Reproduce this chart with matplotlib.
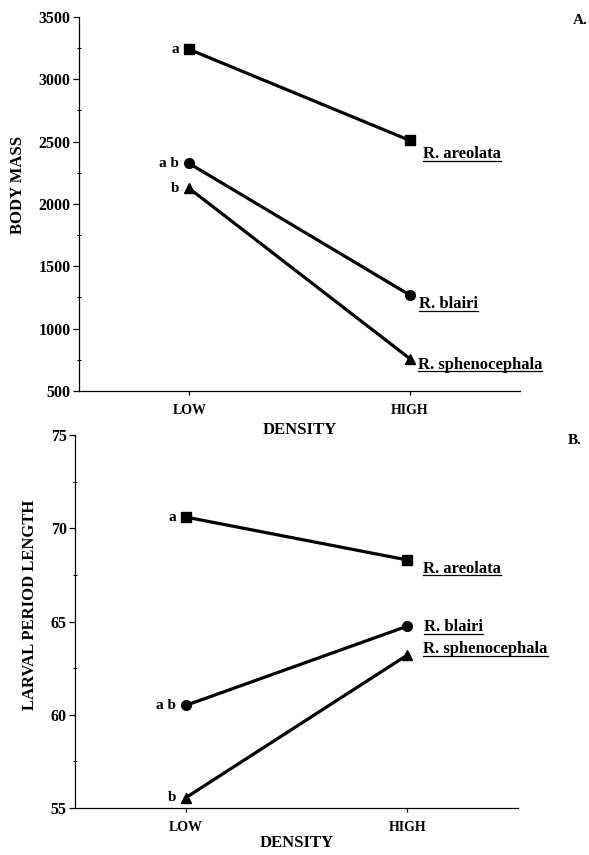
import matplotlib
matplotlib.use("Agg")
import matplotlib.pyplot as plt
from matplotlib.ticker import MultipleLocator
from matplotlib.lines import Line2D

plt.rcParams['font.family'] = ['Liberation Serif', 'DejaVu Serif']
plt.rcParams['font.weight'] = 'bold'

density = ["LOW", "HIGH"]
species = ["R. areolata", "R. blairi", "R. sphenocephala"]
markers = ["s", "o", "^"]

mass_areolata = [3240, 2510]
mass_blairi = [2325, 1270]
mass_spheno = [2125, 760]

period_areolata = [70.6, 68.3]
period_blairi = [60.5, 64.75]
period_spheno = [55.55, 63.2]

letters = ["a", "a b", "b"]

W, H = 589, 855
fig = plt.figure(figsize=(W / 100, H / 100), dpi=100)

def ax_rect(l, r, t, b):
    return [l / W, 1 - b / H, (r - l) / W, (b - t) / H]

ax1 = fig.add_axes(ax_rect(79, 520, 17, 391))
ax2 = fig.add_axes(ax_rect(75, 518, 435, 808))

x = [1, 2]

def style(ax, ylim, major, minor, ylabel, ylab_xy, dens_y):
    ax.set_xlim(0.5, 2.5)
    ax.set_ylim(*ylim)
    for s in ["top", "right"]:
        ax.spines[s].set_visible(False)
    for s in ["left", "bottom"]:
        ax.spines[s].set_linewidth(0.9)
    ax.yaxis.set_major_locator(MultipleLocator(major))
    ax.yaxis.set_minor_locator(MultipleLocator(minor))
    ax.set_xticks(x)
    ax.set_xticklabels(density)
    ax.tick_params(axis='y', which='major', direction='out', length=4, width=0.9,
                   labelsize=11.5, pad=2)
    ax.tick_params(axis='y', which='minor', direction='inout', length=3, width=0.7)
    ax.tick_params(axis='x', which='major', direction='out', length=3, width=0.9,
                   labelsize=10, pad=6)
    for lab in ax.get_xticklabels() + ax.get_yticklabels():
        lab.set_fontweight('bold')
    ax.set_ylabel(ylabel, fontsize=12, fontweight='bold')
    ax.yaxis.label.set_va('center')
    ax.yaxis.set_label_coords(*ylab_xy)
    ax.set_xlabel("DENSITY", fontsize=12, fontweight='bold')
    ax.xaxis.label.set_va('center')
    ax.xaxis.set_label_coords(0.5, dens_y)

style(ax1, (500, 3500), 500, 250, "BODY MASS", (-0.138, 0.551), -0.104)
style(ax2, (55, 75), 5, 2.5, "LARVAL PERIOD LENGTH", (-0.102, 0.544), -0.094)

top_series = [mass_areolata, mass_blairi, mass_spheno]
bot_series = [period_areolata, period_blairi, period_spheno]

top_offsets = [(13, -18), (9, -13), (8, -10)]
bot_offsets = [(16, -13), (17, -5), (16, 2)]

labels = []
for ax, series, offs in [(ax1, top_series, top_offsets), (ax2, bot_series, bot_offsets)]:
    for vals, m, sp, let, off in zip(series, markers, species, letters, offs):
        ax.plot(x, vals, color='black', lw=2.3, marker=m, markersize=7,
                markerfacecolor='black', markeredgecolor='black', clip_on=False)
        ax.annotate(let, (x[0], vals[0]), xytext=(-10, 0), textcoords='offset pixels',
                    ha='right', va='center', fontsize=11, fontweight='bold')
        t = ax.annotate(sp, (x[1], vals[1]), xytext=off, textcoords='offset pixels',
                        ha='left', va='baseline', fontsize=12, fontweight='bold')
        labels.append((ax, t, (x[1], vals[1]), off))

fig.text(580 / W, 1 - 20 / H, "A.", ha='center', va='center', fontsize=11, fontweight='bold')
fig.text(575 / W, 1 - 440 / H, "B.", ha='center', va='center', fontsize=11, fontweight='bold')

fig.canvas.draw()
renderer = fig.canvas.get_renderer()
inv = fig.transFigure.inverted()
for ax, t, xy, off in labels:
    bb = t.get_window_extent(renderer)
    px, py = ax.transData.transform(xy)
    yb = py + off[1] - 2.5
    p0 = inv.transform((bb.x0, yb))
    p1 = inv.transform((bb.x1, yb))
    fig.add_artist(Line2D([p0[0], p1[0]], [p0[1], p1[1]], color='black', lw=0.9,
                          transform=fig.transFigure))

fig.savefig("out.png", dpi=100)
